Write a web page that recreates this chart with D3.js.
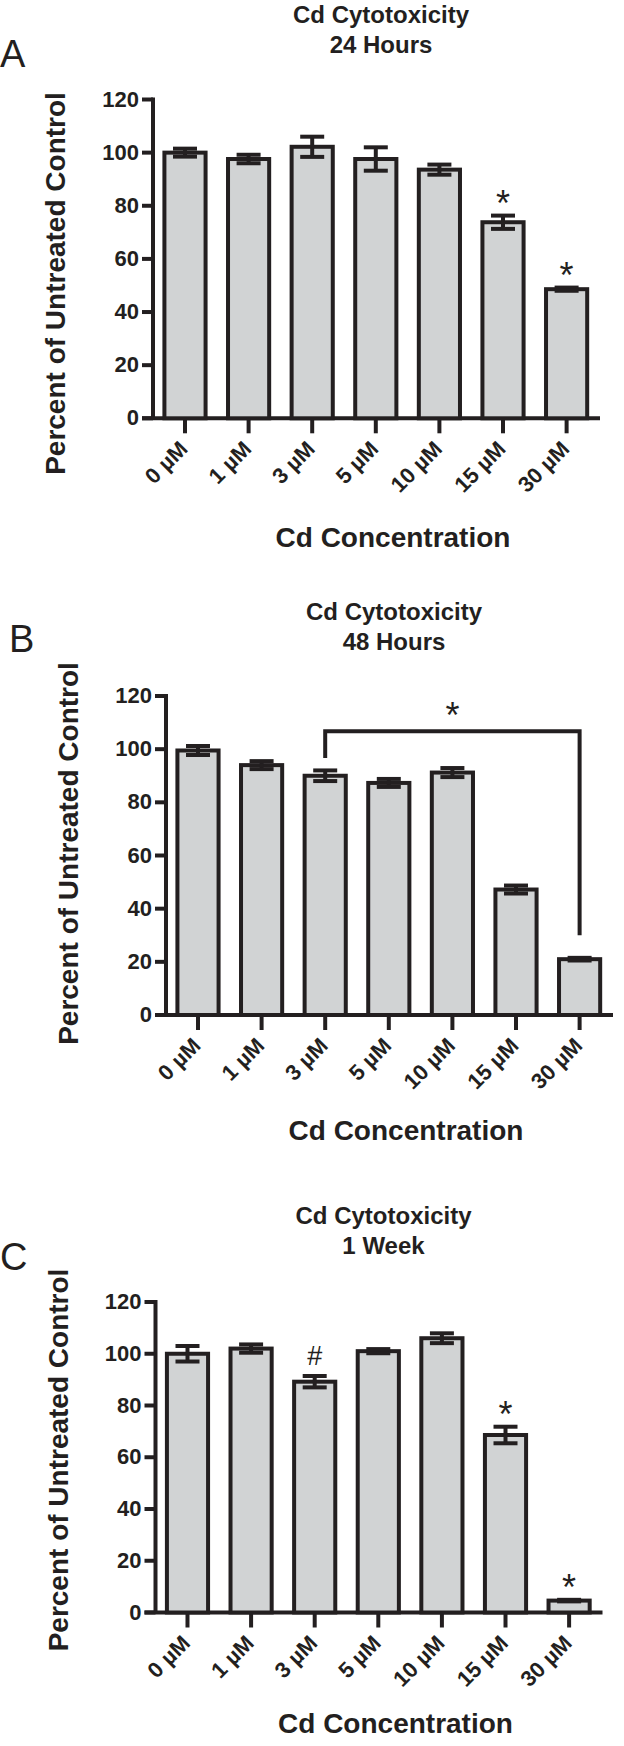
<!DOCTYPE html>
<html>
<head>
<meta charset="utf-8">
<script src="https://cdn.jsdelivr.net/npm/d3@7"></script>
<style>
  body { margin: 0; background: #fff; }
  text { font-family: "Liberation Sans", Arial, Helvetica, sans-serif; fill: #231f20; }
</style>
</head>
<body>
<script>
const categories = ['0 µM', '1 µM', '3 µM', '5 µM', '10 µM', '15 µM', '30 µM'];
const yTicks = [0, 20, 40, 60, 80, 100, 120];

// 24 hours
const meansA = [100, 97.6, 102.2, 97.6, 93.6, 73.8, 48.6];
const errA = [1.5, 1.6, 3.8, 4.4, 1.9, 2.5, 0.6];
const marksA = ['', '', '', '', '', '*', '*'];

// 48 hours
const meansB = [99.5, 94, 90, 87.3, 91.2, 47.2, 21];
const errB = [1.7, 1.5, 2, 1.5, 1.7, 1.5, 0.5];
const marksB = ['', '', '', '', '', '', ''];
const bracketB = ['3 µM', '30 µM'];
const bracketLevels = [96.7, 106.7, 30]; // left leg end, bracket, right leg end
const bracketMark = ['*', 115.5];

// 1 week
const meansC = [100, 102, 89.2, 101, 106, 68.6, 4.6];
const errC = [3, 1.6, 2.2, 0.8, 1.9, 3.2, 0.3];
const marksC = ['', '', '#', '', '', '*', '*'];

const ink = '#231f20';
const barFill = '#d1d3d4';

const svg = d3.select('body')
  .append('svg')
  .attr('width', 624)
  .attr('height', 1746);

// layout of each panel (pixel positions only)
const panels = [
  { letter: 'A', lx: 0, ly: 67, sub: '24 Hours', ax: 153, y0: 418.3, y120: 99.5, ty: 22.7, yty: 283.5, xty: 547,
    means: meansA, errs: errA, marks: marksA },
  { letter: 'B', lx: 9, ly: 652, sub: '48 Hours', ax: 166, y0: 1015, y120: 696, ty: 620, yty: 853.5, xty: 1140,
    means: meansB, errs: errB, marks: marksB, bracket: true },
  { letter: 'C', lx: 0, ly: 1270, sub: '1 Week', ax: 155.5, y0: 1612.5, y120: 1302, ty: 1224.3, yty: 1460, xty: 1733,
    means: meansC, errs: errC, marks: marksC }
];

const markText = (g, x, yc, ch) => {
  // place glyph so its visual centre sits at yc
  const size = ch === '#' ? 27 : 36;
  const shift = ch === '#' ? 0.35 * size : 0.57 * size;
  g.append('text')
    .attr('x', x)
    .attr('y', yc + shift)
    .attr('text-anchor', 'middle')
    .style('font-size', size + 'px')
    .text(ch);
};

const drawPanel = (p) => {
  const g = svg.append('g');

  const y = d3.scaleLinear().domain([0, 120]).range([p.y0, p.y120]);
  const x = d3.scaleBand()
    .domain(categories)
    .range([p.ax, p.ax + 445.6])
    .paddingInner(0.29)
    .paddingOuter(0.148);
  const cx = (c) => x(c) + x.bandwidth() / 2;

  // panel letter
  g.append('text')
    .attr('x', p.lx)
    .attr('y', p.ly)
    .style('font-size', '38px')
    .text(p.letter);

  // title
  const tx = p.ax + 228;
  const title = g.append('text')
    .attr('x', tx)
    .attr('y', p.ty)
    .attr('text-anchor', 'middle')
    .style('font-size', '24px')
    .style('font-weight', 'bold');
  title.append('tspan').attr('x', tx).text('Cd Cytotoxicity');
  title.append('tspan').attr('x', tx).attr('dy', 30).text(p.sub);

  // y axis
  const yAxis = g.append('g')
    .attr('transform', `translate(${p.ax},0)`)
    .call(d3.axisLeft(y).tickValues(yTicks).tickSize(11).tickPadding(3).tickSizeOuter(0).offset(0));
  yAxis.select('.domain').remove();
  yAxis.selectAll('line').attr('stroke', ink).attr('stroke-width', 4);
  yAxis.selectAll('text')
    .attr('fill', ink)
    .style('font-size', '22px')
    .style('font-weight', 'bold')
    .style('font-family', '"Liberation Sans", Arial, sans-serif');

  g.append('line')
    .attr('x1', p.ax).attr('x2', p.ax)
    .attr('y1', y(0)).attr('y2', y(120) - 2)
    .attr('stroke', ink).attr('stroke-width', 4);

  // x axis
  const xAxis = g.append('g')
    .attr('transform', `translate(0,${y(0)})`)
    .call(d3.axisBottom(x).tickSize(15).tickSizeOuter(0).offset(0));
  xAxis.select('.domain').remove();
  xAxis.selectAll('line').attr('stroke', ink).attr('stroke-width', 4);
  xAxis.selectAll('text')
    .attr('fill', ink)
    .attr('x', 0).attr('y', 0).attr('dy', 0)
    .attr('text-anchor', 'end')
    .attr('transform', 'translate(4,32) rotate(-45)')
    .style('font-size', '22px')
    .style('font-weight', 'bold')
    .style('font-family', '"Liberation Sans", Arial, sans-serif');

  g.append('line')
    .attr('x1', p.ax - 11).attr('x2', p.ax + 447)
    .attr('y1', y(0)).attr('y2', y(0))
    .attr('stroke', ink).attr('stroke-width', 4);

  // bars
  g.selectAll('rect.bar')
    .data(p.means)
    .enter()
    .append('rect')
    .attr('class', 'bar')
    .attr('x', (d, i) => x(categories[i]) + 2)
    .attr('width', x.bandwidth() - 4)
    .attr('y', (d) => y(d))
    .attr('height', (d) => y(0) - y(d))
    .attr('fill', barFill)
    .attr('stroke', ink)
    .attr('stroke-width', 4);

  // error bars
  const eb = g.selectAll('g.err')
    .data(p.means)
    .enter()
    .append('g')
    .attr('class', 'err')
    .attr('stroke', ink)
    .attr('stroke-width', 4);
  eb.append('line')
    .attr('x1', (d, i) => cx(categories[i])).attr('x2', (d, i) => cx(categories[i]))
    .attr('y1', (d, i) => y(d - p.errs[i])).attr('y2', (d, i) => y(d + p.errs[i]));
  eb.append('line')
    .attr('x1', (d, i) => cx(categories[i]) - 12).attr('x2', (d, i) => cx(categories[i]) + 12)
    .attr('y1', (d, i) => y(d + p.errs[i])).attr('y2', (d, i) => y(d + p.errs[i]));
  eb.append('line')
    .attr('x1', (d, i) => cx(categories[i]) - 12).attr('x2', (d, i) => cx(categories[i]) + 12)
    .attr('y1', (d, i) => y(d - p.errs[i])).attr('y2', (d, i) => y(d - p.errs[i]));

  // significance marks
  p.marks.forEach((m, i) => {
    if (!m) return;
    markText(g, cx(categories[i]), y(p.means[i] + p.errs[i]) - 20, m);
  });

  if (p.bracket) {
    const x1 = cx(bracketB[0]);
    const x2 = cx(bracketB[1]);
    g.append('path')
      .attr('d', `M${x1},${y(bracketLevels[0])}V${y(bracketLevels[1])}H${x2}V${y(bracketLevels[2])}`)
      .attr('fill', 'none')
      .attr('stroke', ink)
      .attr('stroke-width', 4);
    markText(g, (x1 + x2) / 2, y(bracketMark[1]), bracketMark[0]);
  }

  // axis titles
  g.append('text')
    .attr('transform', `translate(${p.ax - 88},${p.yty}) rotate(-90)`)
    .attr('text-anchor', 'middle')
    .style('font-size', '28px')
    .style('font-weight', 'bold')
    .text('Percent of Untreated Control');

  g.append('text')
    .attr('x', p.ax + 240)
    .attr('y', p.xty)
    .attr('text-anchor', 'middle')
    .style('font-size', '28px')
    .style('font-weight', 'bold')
    .text('Cd Concentration');
};

panels.forEach(drawPanel);
</script>
</body>
</html>
